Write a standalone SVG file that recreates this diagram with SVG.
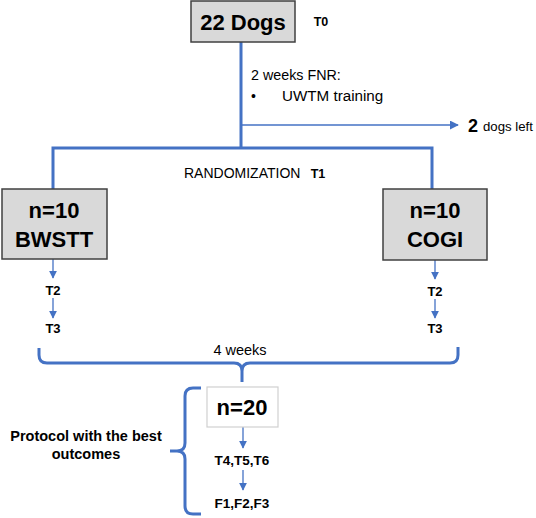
<svg xmlns="http://www.w3.org/2000/svg" width="536" height="518" viewBox="0 0 536 518">
<defs>
<style>
.box{fill:#d9d9d9;stroke:#404040;stroke-width:1.5}
.wbox{fill:#ffffff;stroke:#d0d0d0;stroke-width:1.2}
.big{font-family:"Liberation Sans",Arial,sans-serif;font-weight:bold;font-size:22px;fill:#000;text-anchor:middle}
.lbl{font-family:"Liberation Sans",Arial,sans-serif;font-size:14px;fill:#000}
.sb{font-family:"Liberation Sans",Arial,sans-serif;font-weight:bold;font-size:12.5px;fill:#000;text-anchor:middle}
.thick{fill:none;stroke:#4472c4;stroke-width:3}
.thin{fill:none;stroke:#4472c4;stroke-width:1.3}
</style>
<marker id="ah" viewBox="0 0 10 10" refX="9" refY="5" markerWidth="8" markerHeight="8" markerUnits="userSpaceOnUse" orient="auto">
<path d="M0,0 L10,5 L0,10 z" fill="#4472c4"/>
</marker>
<marker id="ah2" viewBox="0 0 10 10" refX="9" refY="5" markerWidth="9" markerHeight="9" markerUnits="userSpaceOnUse" orient="auto">
<path d="M0,0 L10,5 L0,10 z" fill="#4472c4"/>
</marker>
</defs>
<g id="connectors">
<path class="thick" d="M241,42 V148 M53,189 V148 H432 V189"/>
<line class="thin" x1="241" y1="125" x2="458" y2="125" marker-end="url(#ah2)"/>
<line class="thin" x1="53" y1="259" x2="53" y2="278" marker-end="url(#ah)"/>
<line class="thin" x1="53" y1="298" x2="53" y2="318" marker-end="url(#ah)"/>
<line class="thin" x1="435" y1="260" x2="435" y2="279" marker-end="url(#ah)"/>
<line class="thin" x1="435" y1="299" x2="435" y2="318" marker-end="url(#ah)"/>
<path class="thick" d="M39,348 V355 Q39,363 47,363 H234 Q242,363 242,371 V382 M242,371 Q242,363 250,363 H450 Q458,363 458,355 V347"/>
<line class="thin" x1="243" y1="427" x2="243" y2="448" marker-end="url(#ah)"/>
<line class="thin" x1="243" y1="470" x2="243" y2="490" marker-end="url(#ah)"/>
<path class="thick" d="M201,388 H193 Q185,388 185,396 V443 Q185,451 177,451 H170 M177,451 Q185,451 185,459 V506 Q185,514 193,514 H201"/>
</g>
<g id="node-dogs">
<rect class="box" x="191" y="1" width="104" height="41"/>
<text class="big" x="243" y="30">22 Dogs</text>
<text class="sb" x="321" y="26">T0</text>
</g>
<g id="label-fnr">
<text class="lbl" x="251" y="80" style="font-size:14.3px">2 weeks FNR:</text>
<text class="lbl" x="251" y="101">•</text>
<text class="lbl" x="282" y="101" style="font-size:15.2px">UWTM training</text>
</g>
<g id="label-left">
<text x="468" y="132" style="font-family:'Liberation Sans',Arial,sans-serif;font-weight:bold;font-size:18px;fill:#000">2</text>
<text class="lbl" x="483" y="131" style="font-size:13.2px">dogs left</text>
</g>
<g id="label-random">
<text class="lbl" x="184" y="178">RANDOMIZATION</text>
<text class="sb" x="318" y="178">T1</text>
</g>
<g id="node-bwstt">
<rect class="box" x="2" y="189" width="105" height="70"/>
<text class="big" x="54" y="218">n=10</text>
<text class="big" x="54" y="247">BWSTT</text>
<text class="sb" x="53" y="295" style="font-size:13px">T2</text>
<text class="sb" x="53" y="333" style="font-size:13px">T3</text>
</g>
<g id="node-cogi">
<rect class="box" x="383" y="189" width="104" height="71"/>
<text class="big" x="435" y="218">n=10</text>
<text class="big" x="435" y="247">COGI</text>
<text class="sb" x="435" y="296" style="font-size:13px">T2</text>
<text class="sb" x="435" y="333" style="font-size:13px">T3</text>
</g>
<g id="label-weeks">
<text class="lbl" x="240" y="355" style="font-size:14.5px;text-anchor:middle">4 weeks</text>
</g>
<g id="node-n20">
<rect class="wbox" x="207" y="387" width="71" height="40"/>
<text class="big" x="242" y="415">n=20</text>
<text class="sb" x="242" y="465" style="font-size:13.5px">T4,T5,T6</text>
<text class="sb" x="242" y="508" style="font-size:13.5px">F1,F2,F3</text>
</g>
<g id="label-protocol">
<text class="sb" x="86" y="441" style="font-size:14.5px">Protocol with the best</text>
<text class="sb" x="86" y="459" style="font-size:14.5px">outcomes</text>
</g>
</svg>
